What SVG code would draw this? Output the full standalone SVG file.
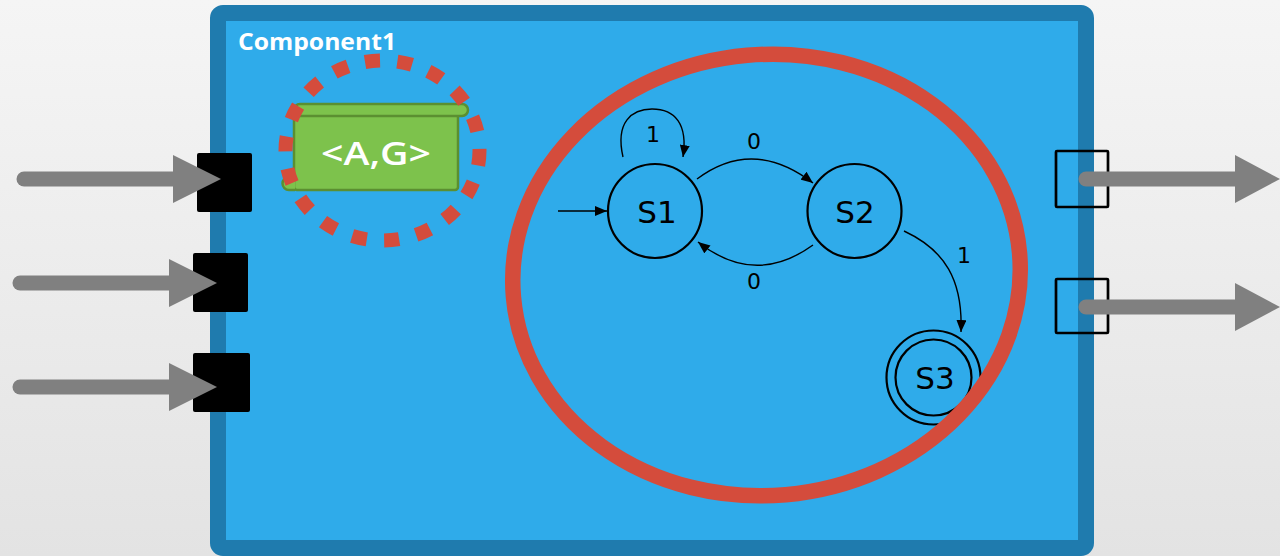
<svg xmlns="http://www.w3.org/2000/svg" width="1280" height="556" viewBox="0 0 1280 556">
  <defs>
    <linearGradient id="bg" x1="0" y1="0" x2="0" y2="1">
      <stop offset="0" stop-color="#f5f5f5"/>
      <stop offset="1" stop-color="#e3e3e3"/>
    </linearGradient>
    <marker id="ah" markerUnits="userSpaceOnUse" markerWidth="12" markerHeight="10" refX="12" refY="5" orient="auto">
      <path d="M0,0 L12,5 L0,10 z" fill="#000"/>
    </marker>
    <style>
      .inport { fill: #000; }
      .outport { fill: none; stroke: #000; stroke-width: 2.7; }
      .shaft { stroke: #808080; stroke-width: 15; stroke-linecap: round; fill: none; }
      .head { fill: #808080; }
      .state { fill: none; stroke: #000; stroke-width: 2.2; }
      .edge { fill: none; stroke: #000; stroke-width: 1.4; marker-end: url(#ah); }
      .slabel { font-family: "DejaVu Sans", sans-serif; font-size: 31px; fill: #000; text-anchor: middle; }
      .elabel { font-family: "DejaVu Sans", sans-serif; font-size: 22px; fill: #000; text-anchor: middle; }
      .red { fill: none; stroke: #d44c3c; }
    </style>
  </defs>

  <rect x="0" y="0" width="1280" height="556" fill="url(#bg)"/>

  <g id="component1">
    <rect x="218" y="13" width="868" height="535" rx="5" fill="#2fabea" stroke="#1f7bae" stroke-width="16"/>
    <text x="238" y="50" font-family="'Open Sans', sans-serif" font-weight="700" font-size="24" fill="#fff" textLength="158" lengthAdjust="spacingAndGlyphs">Component1</text>
  </g>

  <g id="ag">
    <rect x="294" y="110" width="164" height="80" rx="3" fill="#7dc24c" stroke="#5b8f31" stroke-width="2.5"/>
    <rect x="294" y="104" width="174" height="12" rx="6" fill="#7dc24c" stroke="#5b8f31" stroke-width="2.5"/>
    <path d="M295,177 L289,177 A6.5,6.5 0 0 0 289,190 L295,190" fill="#7dc24c" stroke="#5b8f31" stroke-width="2.5"/>
    <text x="376" y="165" font-family="'Open Sans', sans-serif" font-weight="600" font-size="32" fill="#fff" text-anchor="middle" textLength="110" lengthAdjust="spacingAndGlyphs">&lt;A,G&gt;</text>
    <ellipse cx="382.5" cy="150.5" rx="97" ry="90" class="red" stroke-width="14" stroke-dasharray="15 17.5"/>
  </g>

  <g id="in-ports">
    <rect class="inport" x="197" y="153" width="55" height="59" rx="2"/>
    <rect class="inport" x="193" y="253" width="55" height="59" rx="2"/>
    <rect class="inport" x="193" y="353" width="57" height="59" rx="2"/>
  </g>

  <g id="out-ports">
    <rect class="outport" x="1056" y="151" width="52" height="56" rx="1"/>
    <rect class="outport" x="1056" y="279" width="52" height="54" rx="1"/>
  </g>

  <g id="connectors">
    <line class="shaft" x1="24" y1="179" x2="176" y2="179"/>
    <polygon class="head" points="173,155 221,179 173,203"/>
    <line class="shaft" x1="20" y1="283" x2="172" y2="283"/>
    <polygon class="head" points="169,259 217,283 169,307"/>
    <line class="shaft" x1="20" y1="387" x2="172" y2="387"/>
    <polygon class="head" points="169,363 217,387 169,411"/>

    <line class="shaft" x1="1086" y1="179" x2="1238" y2="179"/>
    <polygon class="head" points="1235,155 1280,179 1235,203"/>
    <line class="shaft" x1="1086" y1="307" x2="1238" y2="307"/>
    <polygon class="head" points="1235,283 1280,307 1235,331"/>
  </g>

  <g id="fsm">
    <g id="s1">
      <circle class="state" cx="655" cy="211" r="47"/>
      <text class="slabel" x="657" y="222.5">S1</text>
    </g>
    <g id="s2">
      <circle class="state" cx="854.5" cy="211" r="47"/>
      <text class="slabel" x="855" y="222.5">S2</text>
    </g>
    <g id="s3">
      <circle class="state" cx="933.5" cy="377.5" r="47"/>
      <circle class="state" cx="933.5" cy="377.5" r="38"/>
      <text class="slabel" x="935" y="389">S3</text>
    </g>
    <g id="fsm-edges">
      <path class="edge" d="M558,211 L607,211"/>
      <path class="edge" d="M623,157 C615,122 632,109 652,109 C675,109 688,124 683,157"/>
      <text class="elabel" x="653" y="142">1</text>
      <path class="edge" d="M697,179 Q753,137 813,183"/>
      <text class="elabel" x="754" y="149">0</text>
      <path class="edge" d="M813,245 Q755,287 698,242"/>
      <text class="elabel" x="754" y="289">0</text>
      <path class="edge" d="M904,231 C945,250 963,280 961,332"/>
      <text class="elabel" x="964" y="263">1</text>
    </g>
  </g>

  <ellipse id="fsm-highlight" cx="766.5" cy="275" rx="254" ry="220.5" class="red" stroke-width="15.5" transform="rotate(-5 766.5 275)"/>
</svg>
